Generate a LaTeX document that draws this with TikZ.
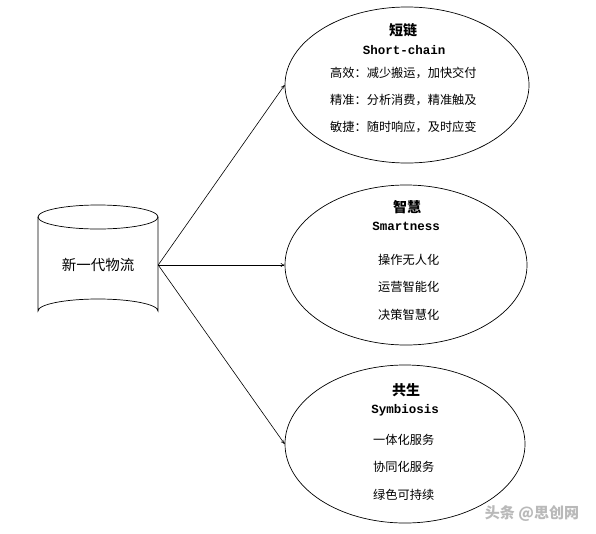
\documentclass[tikz,border=0pt]{standalone}
\usepackage{fontspec}
\newfontfamily\cjk{Noto Sans CJK SC}
\newfontfamily\mono{Liberation Mono}
\usetikzlibrary{shapes.geometric,arrows.meta}
\begin{document}
\begin{tikzpicture}[x=1pt,y=-1pt,
  bub/.style={ellipse,draw,line width=0.7pt,inner sep=0pt},
  ttl/.style={font=\cjk\bfseries\fontsize{14}{14}\selectfont,inner sep=0pt},
  eng/.style={font=\mono\bfseries\fontsize{12.5}{13}\selectfont,inner sep=0pt},
  itm/.style={font=\cjk\fontsize{12.2}{13}\selectfont,inner sep=0pt,anchor=west},
  arr/.style={-{To[length=4pt,width=4pt]},line width=0.6pt}]
\useasboundingbox[fill=white] (0,0) rectangle (596,533);
% cylinder
\node[font=\cjk\fontsize{14.5}{15}\selectfont,minimum width=120pt,minimum height=118pt,inner sep=0pt] (db) at (98,265) {新一代物流};
\draw[line width=0.7pt] (38,217) -- (38,311) arc[start angle=180,end angle=360,x radius=60,y radius=12] -- (158,217);
\draw[line width=0.7pt] (98,217) ellipse[x radius=60,y radius=12];
% ellipses
\node[bub,minimum width=244pt,minimum height=156pt] (e1) at (407,85) {};
\node[bub,minimum width=242pt,minimum height=160pt] (e2) at (406,265) {};
\node[bub,minimum width=240pt,minimum height=158pt] (e3) at (405,444) {};
% texts 1
\node[ttl] (t1) at (403,30) {短链};
\node[eng] (s1) at (404,50) {Short-chain};
\node[itm] (a1) at (330,73) {高效：减少搬运，加快交付};
\node[itm] (b1) at (330,100) {精准：分析消费，精准触及};
\node[itm] (c1) at (330,127) {敏捷：随时响应，及时应变};
% texts 2
\node[ttl] (t2) at (407,207) {智慧};
\node[eng] (s2) at (406,226) {Smartness};
\node[itm] (a2) at (378,260) {操作无人化};
\node[itm] (b2) at (378,287) {运营智能化};
\node[itm] (c2) at (378,315) {决策智慧化};
% texts 3
\node[ttl] (t3) at (406,390) {共生};
\node[eng] (s3) at (405,410) {Symbiosis};
\node[itm] (a3) at (373,440) {一体化服务};
\node[itm] (b3) at (373,467) {协同化服务};
\node[itm] (c3) at (373,495) {绿色可持续};
% watermark
\node[font=\cjk\bfseries\fontsize{15}{15}\selectfont,text=gray!55,inner sep=0pt] (wm) at (532,514) {头条 @思创网};
% arrows
\draw[arr] (db.east) -- (e1.west);
\draw[arr] (db.east) -- (e2.west);
\draw[arr] (db.east) -- (e3.west);
\end{tikzpicture}
\end{document}
